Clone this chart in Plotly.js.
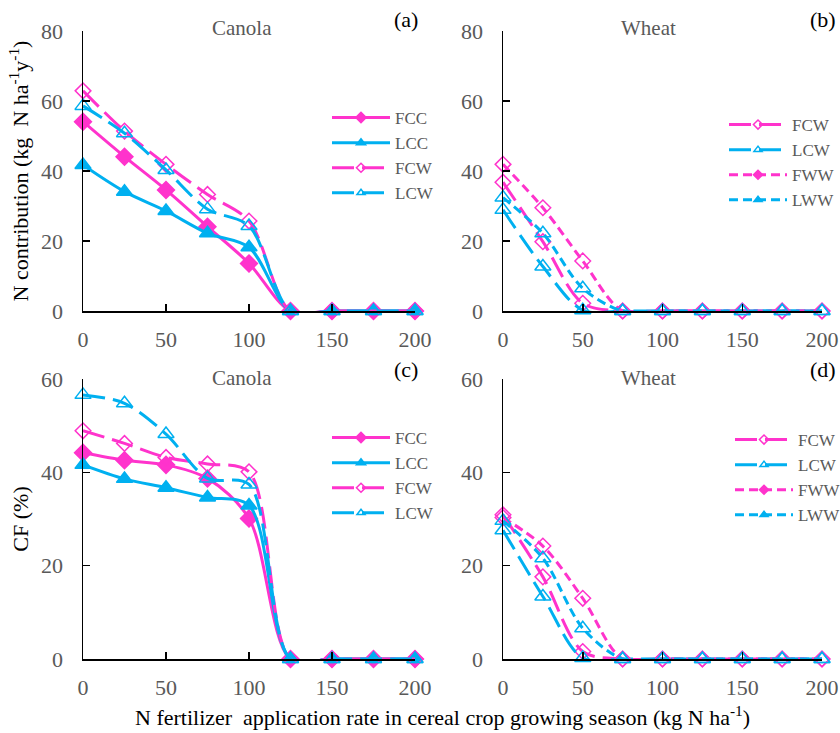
<!DOCTYPE html>
<html><head><meta charset="utf-8">
<script src="https://cdn.plot.ly/plotly-3.0.1.min.js"></script>
<style>html,body{margin:0;padding:0;background:#fff;overflow:hidden}</style>
</head><body><div id="chart" style="width:840px;height:733px"></div>
<script>
// N fertilizer application rate (kg N/ha)
const rates = [0, 25, 50, 75, 100, 125, 150, 175, 200];
// (a) N contribution, canola
const a_FCC = [54.1, 44.1, 34.6, 24.1, 13.6, 0, 0, 0, 0];
const a_LCC = [41.7, 34.1, 28.6, 22.2, 18.2, 0, 0, 0, 0];
const a_FCW = [62.9, 51.4, 41.9, 33.3, 25.7, 0, 0, 0, 0];
const a_LCW = [58.6, 50.8, 40.3, 29.1, 24.3, 0, 0, 0, 0];
// (b) N contribution, wheat
const b_FCW = [36.8, 19.8, 2.2, 0, 0, 0, 0, 0, 0];
const b_LCW = [28.9, 12.7, 0.2, 0, 0, 0, 0, 0, 0];
const b_FWW = [41.9, 29.5, 14.3, 0, 0, 0, 0, 0, 0];
const b_LWW = [32.4, 22.2, 6.5, 0, 0, 0, 0, 0, 0];
// (c) CF, canola
const c_FCC = [44.2, 42.6, 41.6, 38.7, 30.1, 0, 0, 0, 0];
const c_LCC = [41.6, 38.6, 36.7, 34.6, 32.9, 0, 0, 0, 0];
const c_FCW = [48.9, 46.2, 43.2, 41.8, 40.1, 0, 0, 0, 0];
const c_LCW = [56.6, 54.8, 48.2, 38.7, 37.4, 0, 0, 0, 0];
// (d) CF, wheat
const d_FCW = [30.9, 17.6, 1.6, 0, 0, 0, 0, 0, 0];
const d_LCW = [27.6, 13.4, 0.2, 0, 0, 0, 0, 0, 0];
const d_FWW = [30.3, 24.2, 13.0, 0, 0, 0, 0, 0, 0];
const d_LWW = [29.6, 21.6, 6.6, 0, 0, 0, 0, 0, 0];

const PINK = '#FF33CC', BLUE = '#00B0F0';
const SERIF = '"Liberation Serif", "Times New Roman", serif';
const LONG = '22px,8px', SHORT = '9px,5px';

const styles = {
  FCC: {color: PINK, dash: 'solid', symbol: 'diamond', size: 13, lsize: 8},
  LCC: {color: BLUE, dash: 'solid', symbol: 'triangle-up', size: 14, lsize: 8},
  FCW: {color: PINK, dash: LONG, symbol: 'diamond-open', size: 12, lsize: 7},
  LCW: {color: BLUE, dash: LONG, symbol: 'triangle-up-open', size: 14, lsize: 7},
  FWW: {color: PINK, dash: SHORT, symbol: 'diamond', size: 12, lsize: 7, open: true},
  LWW: {color: BLUE, dash: SHORT, symbol: 'triangle-up', size: 14, lsize: 7, open: true}
};

function tr(name, ys, xa, ya) {
  const s = styles[name];
  const sym = s.open ? s.symbol + '-open' : s.symbol;
  return {
    x: rates, y: ys, name: name, xaxis: xa, yaxis: ya, showlegend: false,
    type: 'scatter', mode: 'lines+markers', cliponaxis: false,
    line: {color: s.color, width: 3, dash: s.dash, shape: 'spline', smoothing: 0.9},
    marker: {color: s.color, symbol: sym, size: s.size, line: {color: s.color, width: 1.5}}
  };
}
// legend-only entries (small markers, like the reference legend)
function lg(name, xa, ya, leg, grp) {
  const s = styles[name];
  const sym = s.symbol === 'diamond' && (name === 'FCC' || name === 'FWW') ? 'diamond' :
              (s.symbol === 'triangle-up' && (name === 'LCC' || name === 'LWW') ? 'triangle-up' : s.symbol);
  return {
    x: [null], y: [null], name: name, xaxis: xa, yaxis: ya, legend: leg, legendgroup: grp,
    type: 'scatter', mode: 'lines+markers',
    line: {color: s.color, width: 3, dash: s.dash},
    marker: {color: s.color, symbol: sym, size: s.lsize, line: {color: s.color, width: 1.5}}
  };
}

const data = [
  tr('FCC', a_FCC, 'x', 'y'), tr('LCC', a_LCC, 'x', 'y'),
  tr('FCW', a_FCW, 'x', 'y'), tr('LCW', a_LCW, 'x', 'y'),
  tr('FCW', b_FCW, 'x2', 'y2'), tr('LCW', b_LCW, 'x2', 'y2'),
  tr('FWW', b_FWW, 'x2', 'y2'), tr('LWW', b_LWW, 'x2', 'y2'),
  tr('FCC', c_FCC, 'x3', 'y3'), tr('LCC', c_LCC, 'x3', 'y3'),
  tr('FCW', c_FCW, 'x3', 'y3'), tr('LCW', c_LCW, 'x3', 'y3'),
  tr('FCW', d_FCW, 'x4', 'y4'), tr('LCW', d_LCW, 'x4', 'y4'),
  tr('FWW', d_FWW, 'x4', 'y4'), tr('LWW', d_LWW, 'x4', 'y4'),
  lg('FCC', 'x', 'y', 'legend', 'a1'), lg('LCC', 'x', 'y', 'legend', 'a2'),
  lg('FCW', 'x', 'y', 'legend', 'a3'), lg('LCW', 'x', 'y', 'legend', 'a4'),
  lg('FCW', 'x2', 'y2', 'legend2', 'b1'), lg('LCW', 'x2', 'y2', 'legend2', 'b2'),
  lg('FWW', 'x2', 'y2', 'legend2', 'b3'), lg('LWW', 'x2', 'y2', 'legend2', 'b4'),
  lg('FCC', 'x3', 'y3', 'legend3', 'c1'), lg('LCC', 'x3', 'y3', 'legend3', 'c2'),
  lg('FCW', 'x3', 'y3', 'legend3', 'c3'), lg('LCW', 'x3', 'y3', 'legend3', 'c4'),
  lg('FCW', 'x4', 'y4', 'legend4', 'd1'), lg('LCW', 'x4', 'y4', 'legend4', 'd2'),
  lg('FWW', 'x4', 'y4', 'legend4', 'd3'), lg('LWW', 'x4', 'y4', 'legend4', 'd4')
];

const W = 840, H = 733;
const tickFont = {family: SERIF, size: 22, color: '#595959'};
function xax(d, anchor) {
  return {domain: d, anchor: anchor, range: [0, 200], tick0: 0, dtick: 50,
    ticks: 'inside', ticklen: 7, tickwidth: 1.5, tickcolor: '#000',
    showline: true, linecolor: '#000', linewidth: 1.5, showgrid: false, zeroline: false,
    tickfont: tickFont, ticklabelstandoff: 8, automargin: false};
}
function yax(d, anchor, max, title) {
  return {domain: d, anchor: anchor, range: [0, max], tick0: 0, dtick: 20,
    ticks: 'inside', ticklen: 7, tickwidth: 1.5, tickcolor: '#000',
    showline: true, linecolor: '#000', linewidth: 1.5, showgrid: false, zeroline: false,
    tickfont: tickFont, ticklabelstandoff: 14, automargin: false,
    title: title ? {text: title, font: {family: SERIF, size: 22, color: '#000'}, standoff: 6} : undefined};
}
const xL = [83 / W, 415 / W], xR = [503 / W, 822 / W];
const yT = [(H - 311) / H, (H - 31) / H], yB = [(H - 659) / H, (H - 379) / H];

function leg(xpx, ypx, gap) {
  return {x: xpx / W, y: (H - ypx) / H, xref: 'paper', yref: 'paper', xanchor: 'left', yanchor: 'top',
    bgcolor: 'rgba(0,0,0,0)', font: {family: SERIF, size: 17, color: '#595959'},
    tracegroupgap: gap, traceorder: 'normal', itemwidth: 58};
}
function ann(text, xpx, ypx, size, color) {
  return {text: text, x: xpx / W, y: (H - ypx) / H, xref: 'paper', yref: 'paper',
    showarrow: false, xanchor: 'center', yanchor: 'middle',
    font: {family: SERIF, size: size, color: color}};
}

const layout = {
  width: W, height: H, margin: {l: 0, r: 0, t: 0, b: 0, autoexpand: false},
  paper_bgcolor: '#fff', plot_bgcolor: '#fff', showlegend: true,
  xaxis: xax(xL, 'y'), yaxis: yax(yT, 'x', 80, 'N contribution (kg  N ha<sup>-1</sup>y<sup>-1</sup>)'),
  xaxis2: xax(xR, 'y2'), yaxis2: yax(yT, 'x2', 80, null),
  xaxis3: xax(xL, 'y3'), yaxis3: yax(yB, 'x3', 60, 'CF (%)'),
  xaxis4: xax(xR, 'y4'), yaxis4: yax(yB, 'x4', 60, null),
  legend: leg(327, 100, 0),
  legend2: leg(724, 107, 0),
  legend3: leg(327, 420, 4),
  legend4: leg(730, 422, 4),
  annotations: [
    ann('Canola', 242, 28, 21, '#595959'),
    ann('Wheat', 648, 28, 21, '#595959'),
    ann('Canola', 242, 378, 21, '#595959'),
    ann('Wheat', 648, 378, 21, '#595959'),
    ann('(a)', 406, 20, 22, '#000'),
    ann('(b)', 823, 20, 22, '#000'),
    ann('(c)', 406, 369, 22, '#000'),
    ann('(d)', 823, 369, 22, '#000'),
    ann('N fertilizer  application rate in cereal crop growing season (kg N ha<sup>-1</sup>)', 442, 716, 22, '#000')
  ]
};

Plotly.newPlot('chart', data, layout, {staticPlot: true, displayModeBar: false});
</script>
</body></html>
